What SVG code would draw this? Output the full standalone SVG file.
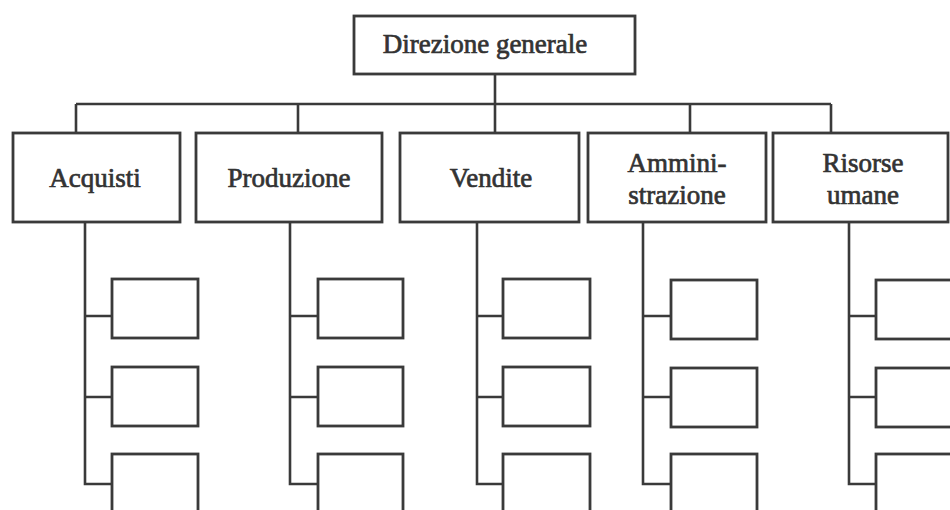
<svg xmlns="http://www.w3.org/2000/svg" width="950" height="510" viewBox="0 0 950 510">
<style>
.box{fill:#fff;stroke:#3a3a3a;stroke-width:2.8}
.ln{fill:none;stroke:#3a3a3a;stroke-width:2.6}
.t{font-family:"Liberation Serif","DejaVu Serif","Times New Roman",serif;font-size:27px;fill:#333;stroke:#333;stroke-width:0.7;text-anchor:middle}
</style>
<rect width="950" height="510" fill="#fff"/>
<g id="connectors">
<path class="ln" d="M495 74V104M76 104H831M76 104V133M298 104V133M495 104V133M690 104V133M831 104V133"/>
<path class="ln" d="M85 222V484H112M85 316H112M85 397H112"/>
<path class="ln" d="M290 222V484H318M290 316H318M290 397H318"/>
<path class="ln" d="M477 222V484H503M477 316H503M477 397H503"/>
<path class="ln" d="M643 222V484H671M643 316H671M643 397H671"/>
<path class="ln" d="M849 222V484H876M849 316H876M849 397H876"/>
</g>
<g id="direzione"><rect class="box" x="354" y="16" width="281" height="58"/><text class="t" x="485" y="53">Direzione generale</text></g>
<g id="acquisti"><rect class="box" x="13" y="133" width="167" height="89"/><text class="t" x="95" y="187">Acquisti</text></g>
<g id="produzione"><rect class="box" x="196" y="133" width="186" height="89"/><text class="t" x="289" y="187">Produzione</text></g>
<g id="vendite"><rect class="box" x="400" y="133" width="179" height="89"/><text class="t" x="491" y="187">Vendite</text></g>
<g id="amministrazione"><rect class="box" x="588" y="133" width="178" height="89"/><text class="t" x="677" y="172">Ammini-</text><text class="t" x="677" y="204">strazione</text></g>
<g id="risorse"><rect class="box" x="773" y="133" width="175" height="89"/><text class="t" x="863" y="172">Risorse</text><text class="t" x="863" y="204">umane</text></g>
<g id="acq-sub1"><rect class="box" x="112" y="279" width="86" height="59"/></g>
<g id="acq-sub2"><rect class="box" x="112" y="367" width="86" height="59"/></g>
<g id="acq-sub3"><rect class="box" x="112" y="454" width="86" height="70"/></g>
<g id="pro-sub1"><rect class="box" x="318" y="279" width="85" height="59"/></g>
<g id="pro-sub2"><rect class="box" x="318" y="367" width="85" height="59"/></g>
<g id="pro-sub3"><rect class="box" x="318" y="454" width="85" height="70"/></g>
<g id="ven-sub1"><rect class="box" x="503" y="279" width="87" height="59"/></g>
<g id="ven-sub2"><rect class="box" x="503" y="367" width="87" height="59"/></g>
<g id="ven-sub3"><rect class="box" x="503" y="454" width="87" height="70"/></g>
<g id="amm-sub1"><rect class="box" x="671" y="280" width="86" height="59"/></g>
<g id="amm-sub2"><rect class="box" x="671" y="368" width="86" height="59"/></g>
<g id="amm-sub3"><rect class="box" x="671" y="454" width="86" height="70"/></g>
<g id="ris-sub1"><rect class="box" x="876" y="280" width="90" height="59"/></g>
<g id="ris-sub2"><rect class="box" x="876" y="368" width="90" height="59"/></g>
<g id="ris-sub3"><rect class="box" x="876" y="454" width="90" height="70"/></g>
</svg>
